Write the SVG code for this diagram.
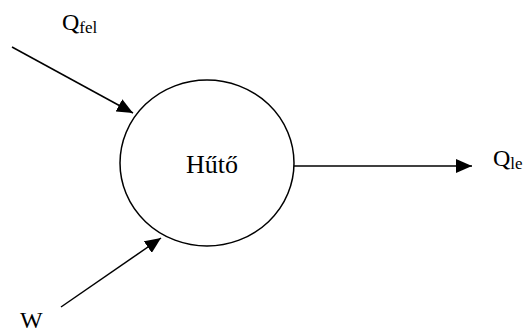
<svg xmlns="http://www.w3.org/2000/svg" width="526" height="332" viewBox="0 0 526 332">
<style>
.t{font-family:"Liberation Serif","Times New Roman",serif;fill:#000}
.m{font-size:24px}
.h{font-size:26px}
.s{font-size:17px}
.c{fill:none;stroke:#000;stroke-width:1.5}
</style>
<defs>
<marker id="ah" markerWidth="16" markerHeight="14" refX="16" refY="7" orient="auto" markerUnits="userSpaceOnUse">
<path d="M0,0 L16,7 L0,14 z" fill="#000"/>
</marker>
</defs>
<rect width="526" height="332" fill="#fff"/>
<g id="huto">
<ellipse cx="207" cy="163" rx="87" ry="83" class="c"/>
<text class="t h" x="212" y="173" text-anchor="middle">Hűtő</text>
</g>
<g id="qfel">
<text class="t" x="62" y="30"><tspan class="m">Q</tspan><tspan class="s" dy="3">fel</tspan></text>
</g>
<g id="w">
<text class="t m" x="20" y="328">W</text>
</g>
<g id="qle">
<text class="t" x="493" y="166"><tspan class="m">Q</tspan><tspan class="s" dy="3">le</tspan></text>
</g>
<g id="connectors">
<line x1="12" y1="47" x2="133" y2="113" class="c" marker-end="url(#ah)"/>
<line x1="61" y1="307" x2="161" y2="238" class="c" marker-end="url(#ah)"/>
<line x1="294" y1="166" x2="472" y2="166" class="c" marker-end="url(#ah)"/>
</g>
</svg>
